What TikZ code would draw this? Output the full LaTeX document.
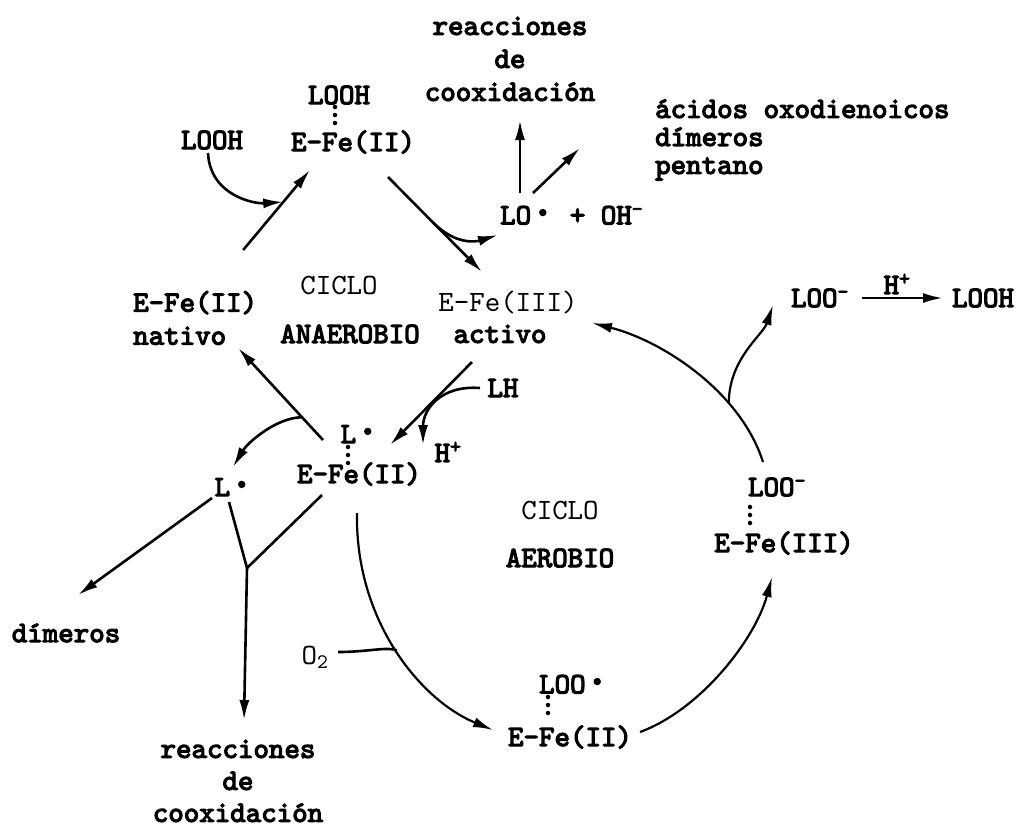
\documentclass[tikz,border=0pt]{standalone}
\usepackage{fontspec}
\setmonofont{lmmono10-regular.otf}[BoldFont=lmmono10-regular.otf, BoldFeatures={FakeBold=4}]
\usetikzlibrary{arrows.meta}
\newcommand{\rdot}{\raisebox{-0.06em}{\scalebox{1.5}{·}}}
\begin{document}
\begin{tikzpicture}[x=1pt,y=-1pt,
  txt/.style={font=\fontsize{29.5}{33}\selectfont\ttfamily\bfseries, inner sep=0pt, align=center},
  rtxt/.style={font=\fontsize{29.5}{33}\selectfont\ttfamily, inner sep=0pt, align=center},
  ltxt/.style={font=\fontsize{29.5}{28}\selectfont\ttfamily\bfseries, inner sep=0pt, align=left},
  btxt/.style={font=\fontsize{29.5}{32}\selectfont\ttfamily\bfseries, inner sep=0pt, align=center},
  arr/.style={line width=2.6pt, -{Latex[length=20pt,width=10pt]}},
  ln/.style={line width=2.6pt},
  arcarr/.style={line width=2.2pt, -{Latex[length=20pt,width=10pt]}},
  dotsline/.style={line width=4.5pt, dash pattern=on 0pt off 8pt, line cap=round}]
\useasboundingbox (0,0) rectangle (1020,831);

% ---------- texts ----------
\node[txt] (reacT) at (510,59) {reacciones\\de\\cooxidación};
\node[ltxt, anchor=west] (prod) at (655,140) {ácidos oxodienoicos\\dímeros\\pentano};
\node[txt] (loohL) at (212,140) {LOOH};
\node[txt] (loohT) at (339,95) {LOOH};
\node[txt] (efeT) at (353,142) {E–Fe(II)};
\node[txt, anchor=west] (lo) at (500,216) {LO\rdot{} + OH\textsuperscript{–}};
\node[txt, align=left, anchor=west] (nat) at (133,318) {E–Fe(II)\\nativo};
\node[rtxt] (cicA) at (339,285) {CICLO};
\node[txt] (anae) at (350,334) {ANAEROBIO};
\node[rtxt] (efe3) at (508,302) {E–Fe(III)};
\node[txt] (act) at (500,334) {activo};
\node[txt] (looA) at (820,298) {LOO\textsuperscript{–}};
\node[txt] (loohR) at (983,298) {LOOH};
\node[txt] (hA) at (897,284) {H\textsuperscript{+}};
\node[txt] (lh) at (503,388) {LH};
\node[txt] (lrad) at (360,435) {L\rdot};
\node[txt] (efeL) at (359,474) {E–Fe(II)};
\node[txt] (hB) at (448,452) {H\textsuperscript{+}};
\node[txt] (lfree) at (234,488) {L\rdot};
\node[txt] (dim) at (66,633) {dímeros};
\node[btxt] (reacB) at (238,781) {reacciones\\de\\cooxidación};
\node[rtxt] (cicB) at (560,510) {CICLO};
\node[txt] (aer) at (560,558) {AEROBIO};
\node[txt] (looM) at (777,487) {LOO\textsuperscript{–}};
\node[txt] (efe3M) at (784,543) {E–Fe(III)};
\node[rtxt] (o2) at (315,657) {O\textsubscript{2}};
\node[txt] (looB) at (574,685) {LOO\rdot};
\node[txt] (efeB) at (570,737) {E–Fe(II)};

% ---------- dotted bonds ----------
\draw[dotsline] (335,107) -- (335,124);
\draw[dotsline] (348,447) -- (348,464);
\draw[dotsline] (750,507) -- (750,524);
\draw[dotsline] (548,697) -- (548,714);

% ---------- anaerobic cycle ----------
\draw[arr] ([shift={(48,-68)}]nat.center) -- coordinate[pos=0.6] (j1) ([shift={(-43,28)}]efeT.center);
\draw[arr] ([shift={(-4,13)}]loohL.center) .. controls +(2,42) and +(-30,2) .. (j1);

\draw[arr] ([shift={(35,35)}]efeT.center) -- coordinate[pos=0.48] (j2) ([shift={(-26,-30)}]efe3.center);
\draw[arr] (j2) .. controls +(22,22) and +(-23,7) .. ([shift={(-2,19)}]lo.west);
\draw[arr] ([shift={(20,-23)}]lo.west) -- ([shift={(10,61)}]reacT.center);
\draw[arr] ([shift={(33,-23)}]lo.west) -- ([shift={(-75,8)}]prod.west);

\draw[arr] ([shift={(-36,-34)}]efeL.center) -- coordinate[pos=0.247] (j3) ([shift={(43,30)}]nat.center);
\draw[arr] (j3) .. controls +(-25,0) and +(15,-25) .. ([shift={(-1,-21)}]lfree.center);

\draw[arr] ([shift={(-28,28)}]act.center) -- ([shift={(31,-29)}]efeL.center);
\draw[arr] ([shift={(-23,0)}]lh.center) .. controls +(-40,-3) and +(0,-35) .. ([shift={(-25,-7)}]hB.center);

% ---------- L. fate ----------
\draw[arr] ([shift={(-22,10)}]lfree.center) -- ([shift={(12,-38)}]dim.center);
\coordinate (j4) at (247,568);
\draw[ln] ([shift={(-5,14)}]lfree.center) -- (j4);
\draw[ln] ([shift={(-37,21)}]efeL.center) -- (j4);
\draw[arr] (j4) -- ([shift={(6,-61)}]reacB.center);

% ---------- aerobic cycle ----------
\draw[arcarr] ([shift={(-2,39)}]efeL.center) .. controls +(-2,107) and +(-73,-30) .. coordinate[pos=0.5] (j5) ([shift={(-77,-7)}]efeB.center);
\draw[line width=2.6pt] ([shift={(23,-5)}]o2.center) .. controls +(30,0) and +(-10,-4) .. (j5);
\draw[arcarr] ([shift={(70,-5)}]efeB.center) .. controls +(60,-22) and +(-17,63) .. ([shift={(-12,34)}]efe3M.center);
\draw[arcarr] ([shift={(-14,-25)}]looM.center) .. controls +(-23,-72) and +(68,17) .. coordinate[pos=0.3] (j6) ([shift={(84,21)}]efe3.center);
\draw[arcarr] (j6) .. controls +(0,-45) and +(-10,30) .. ([shift={(-47,7)}]looA.center);
\draw[arr] ([shift={(42,0)}]looA.center) -- ([shift={(-40,0)}]loohR.center);

\end{tikzpicture}
\end{document}
